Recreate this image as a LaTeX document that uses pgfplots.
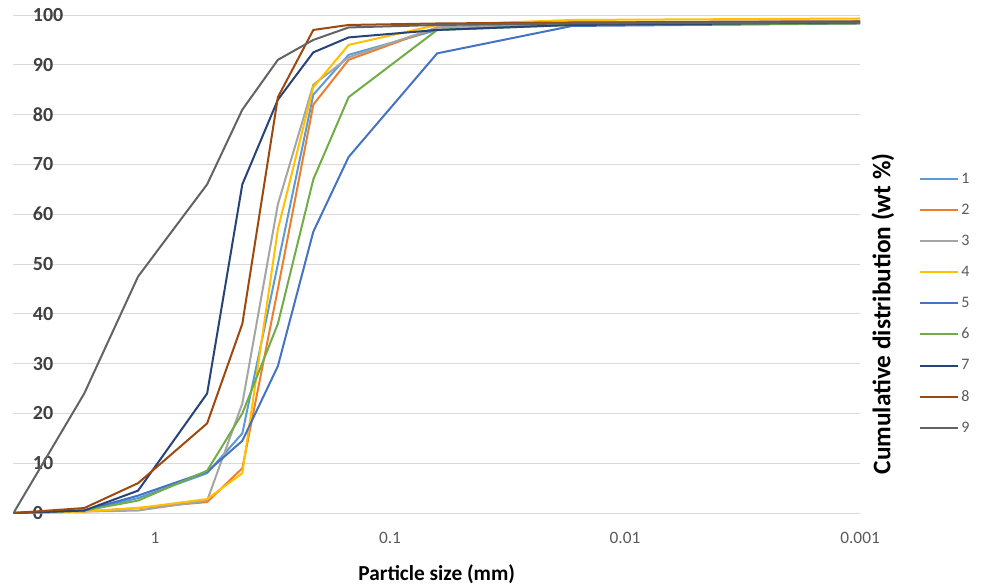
\documentclass[border=0pt]{standalone}
\usepackage{fontspec}
\setmainfont{Carlito}
\usepackage{pgfplots}
\pgfplotsset{compat=1.18}
\definecolor{c1}{HTML}{5B9BD5}
\definecolor{c2}{HTML}{ED7D31}
\definecolor{c3}{HTML}{A5A5A5}
\definecolor{c4}{HTML}{FFC000}
\definecolor{c5}{HTML}{4472C4}
\definecolor{c6}{HTML}{70AD47}
\definecolor{c7}{HTML}{264478}
\definecolor{c8}{HTML}{9E480E}
\definecolor{c9}{HTML}{636363}
\definecolor{gridgray}{HTML}{D9D9D9}
\definecolor{ticktext}{HTML}{404040}
\definecolor{xticktext}{HTML}{595959}
\definecolor{legtext}{HTML}{595959}
\begin{document}
\begin{tikzpicture}
\begin{axis}[
  at={(0pt,0pt)}, anchor=south west,
  scale only axis, width=634.9pt, height=373.5pt,
  xmode=log, x dir=reverse, xmin=0.001, xmax=4, ymin=0, ymax=100,
  axis line style={draw=none}, tick style={draw=none},
  ymajorgrids, grid style={color=gridgray, line width=0.75pt},
  /pgf/number format/assume math mode=true,
  xtick={1,0.1,0.01,0.001}, xticklabels={1,0.1,0.01,0.001},
  xticklabel style={font=\fontsize{13}{13}\selectfont, text=xticktext, yshift=-11pt},
  ytick={0,10,...,100},
  yticklabel={\pgfmathprintnumber{\tick}},
  yticklabel style={anchor=west, xshift=11pt, font=\fontsize{15}{15}\selectfont\bfseries, text=ticktext},
  xlabel={Particle size (mm)},
  xlabel style={at={(rel axis cs:0.5,-0.122)}, anchor=center, font=\fontsize{16}{16}\selectfont\bfseries, text=black},
  ylabel={Cumulative distribution (wt \%)},
  ylabel style={at={(rel axis cs:1.027,0.40)}, anchor=center, font=\fontsize{19}{19}\selectfont\bfseries, text=black},
  legend style={at={(1.065,0.694)}, anchor=north west, draw=none, fill=none,
    font=\fontsize{12}{12}\selectfont, text=legtext, row sep=10pt},
  legend cell align=left,
  legend image code/.code={\draw[#1, line width=1.5pt] (0pt,0pt) -- (28pt,0pt);},
  every axis plot/.append style={line width=1.5pt},
]
\addplot[c1] coordinates {(4,0) (2,0.5) (1.18,3) (0.6,8) (0.425,16) (0.3,50) (0.212,84) (0.15,92) (0.063,97) (0.0168,98.3) (0.001,98.6)};
\addlegendentry{1}
\addplot[c2] coordinates {(4,0) (2,0.3) (1.18,1) (0.6,2.2) (0.425,9) (0.3,45) (0.212,82) (0.15,91) (0.063,97.5) (0.0168,98.5) (0.001,98.8)};
\addlegendentry{2}
\addplot[c3] coordinates {(4,0) (2,0.3) (1.18,0.5) (0.6,2.5) (0.425,22) (0.3,62) (0.212,86) (0.15,91.5) (0.063,97.5) (0.0168,98.5) (0.001,98.8)};
\addlegendentry{3}
\addplot[c4] coordinates {(4,0) (2,0.3) (1.18,1) (0.6,2.8) (0.425,8) (0.3,57) (0.212,85.5) (0.15,94) (0.063,98) (0.0168,99) (0.001,99.3)};
\addlegendentry{4}
\addplot[c5] coordinates {(4,0) (2,0.5) (1.18,3.5) (0.6,8.3) (0.425,14.5) (0.3,29.5) (0.212,56.5) (0.15,71.5) (0.063,92.3) (0.0168,97.8) (0.001,98.3)};
\addlegendentry{5}
\addplot[c6] coordinates {(4,0) (2,0.5) (1.18,2.5) (0.6,8.5) (0.425,20) (0.3,38) (0.212,67) (0.15,83.5) (0.063,97) (0.0168,98) (0.001,98.3)};
\addlegendentry{6}
\addplot[c7] coordinates {(4,0) (2,0.5) (1.18,4.5) (0.6,24) (0.425,66) (0.3,83) (0.212,92.5) (0.15,95.5) (0.063,97) (0.0168,98) (0.001,98.5)};
\addlegendentry{7}
\addplot[c8] coordinates {(4,0) (2,1) (1.18,6) (0.6,18) (0.425,38) (0.3,83.5) (0.212,97) (0.15,98) (0.063,98.3) (0.0168,98.5) (0.001,98.7)};
\addlegendentry{8}
\addplot[c9] coordinates {(4,0) (2,24) (1.18,47.5) (0.6,66) (0.425,81) (0.3,91) (0.212,95) (0.15,97.5) (0.063,98) (0.0168,98.3) (0.001,98.5)};
\addlegendentry{9}
\end{axis}
\pgfresetboundingbox
\path (-10.125pt,-55.5pt) rectangle (727.1pt,384.75pt);
\end{tikzpicture}
\end{document}
